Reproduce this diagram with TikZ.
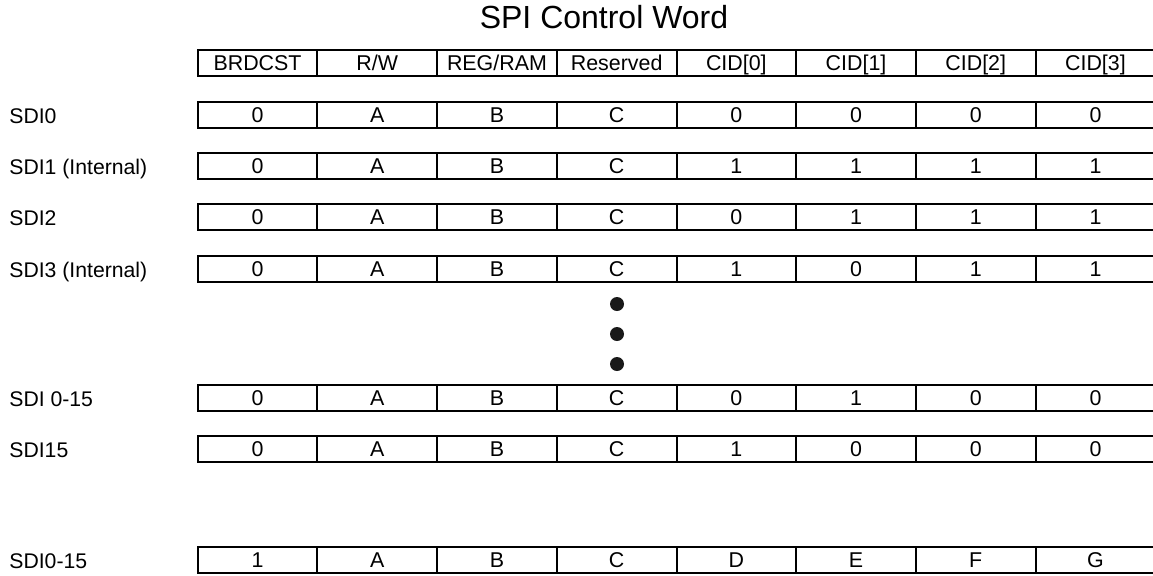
\documentclass[tikz,border=0pt]{standalone}
\usepackage{fontspec}
\setmainfont{Liberation Sans}
\begin{document}
\begin{tikzpicture}[x=0.5pt, y=-0.5pt,
    cell/.style={draw, line width=1pt, rectangle, minimum width=59.85pt, minimum height=13pt,
      inner sep=0pt, text height=7.5pt, text depth=0pt, font=\fontsize{10.7}{12}\selectfont},
    rowname/.style={anchor=base west, inner sep=0pt, font=\fontsize{10.6}{12}\selectfont},
    dot/.style={circle, fill=black!90, inner sep=0pt, minimum size=7pt}]
    \useasboundingbox (0, 0) rectangle (1153, 575);
    \node [anchor=base, inner sep=0pt, font=\fontsize{16}{18}\selectfont] (t) at (604, 28.3) {SPI Control Word};
    % header
    \node [cell] (h1) at (257.55, 63) {BRDCST};
    \node [cell] (h2) at (377.25, 63) {R/W};
    \node [cell] (h3) at (496.95, 63) {REG/RAM};
    \node [cell] (h4) at (616.65, 63) {Reserved};
    \node [cell] (h5) at (736.35, 63) {CID[0]};
    \node [cell] (h6) at (856.05, 63) {CID[1]};
    \node [cell] (h7) at (975.75, 63) {CID[2]};
    \node [cell] (h8) at (1095.45, 63) {CID[3]};
    % SDI0
    \node [rowname] (la) at (9, 123.3) {SDI0};
    \node [cell] (a1) at (257.55, 115) {0};
    \node [cell] (a2) at (377.25, 115) {A};
    \node [cell] (a3) at (496.95, 115) {B};
    \node [cell] (a4) at (616.65, 115) {C};
    \node [cell] (a5) at (736.35, 115) {0};
    \node [cell] (a6) at (856.05, 115) {0};
    \node [cell] (a7) at (975.75, 115) {0};
    \node [cell] (a8) at (1095.45, 115) {0};
    % SDI1
    \node [rowname] (lb) at (9, 174.3) {SDI1 (Internal)};
    \node [cell] (b1) at (257.55, 166) {0};
    \node [cell] (b2) at (377.25, 166) {A};
    \node [cell] (b3) at (496.95, 166) {B};
    \node [cell] (b4) at (616.65, 166) {C};
    \node [cell] (b5) at (736.35, 166) {1};
    \node [cell] (b6) at (856.05, 166) {1};
    \node [cell] (b7) at (975.75, 166) {1};
    \node [cell] (b8) at (1095.45, 166) {1};
    % SDI2
    \node [rowname] (lc) at (9, 225.3) {SDI2};
    \node [cell] (c1) at (257.55, 217) {0};
    \node [cell] (c2) at (377.25, 217) {A};
    \node [cell] (c3) at (496.95, 217) {B};
    \node [cell] (c4) at (616.65, 217) {C};
    \node [cell] (c5) at (736.35, 217) {0};
    \node [cell] (c6) at (856.05, 217) {1};
    \node [cell] (c7) at (975.75, 217) {1};
    \node [cell] (c8) at (1095.45, 217) {1};
    % SDI3
    \node [rowname] (ld) at (9, 277.3) {SDI3 (Internal)};
    \node [cell] (d1) at (257.55, 269) {0};
    \node [cell] (d2) at (377.25, 269) {A};
    \node [cell] (d3) at (496.95, 269) {B};
    \node [cell] (d4) at (616.65, 269) {C};
    \node [cell] (d5) at (736.35, 269) {1};
    \node [cell] (d6) at (856.05, 269) {0};
    \node [cell] (d7) at (975.75, 269) {1};
    \node [cell] (d8) at (1095.45, 269) {1};
    % dots
    \node [dot] (p1) at (617, 304) {};
    \node [dot] (p2) at (617, 334) {};
    \node [dot] (p3) at (617, 364) {};
    % SDI 0-15
    \node [rowname] (le) at (9, 406.3) {SDI 0-15};
    \node [cell] (e1) at (257.55, 398) {0};
    \node [cell] (e2) at (377.25, 398) {A};
    \node [cell] (e3) at (496.95, 398) {B};
    \node [cell] (e4) at (616.65, 398) {C};
    \node [cell] (e5) at (736.35, 398) {0};
    \node [cell] (e6) at (856.05, 398) {1};
    \node [cell] (e7) at (975.75, 398) {0};
    \node [cell] (e8) at (1095.45, 398) {0};
    % SDI15
    \node [rowname] (lf) at (9, 457.3) {SDI15};
    \node [cell] (f1) at (257.55, 449) {0};
    \node [cell] (f2) at (377.25, 449) {A};
    \node [cell] (f3) at (496.95, 449) {B};
    \node [cell] (f4) at (616.65, 449) {C};
    \node [cell] (f5) at (736.35, 449) {1};
    \node [cell] (f6) at (856.05, 449) {0};
    \node [cell] (f7) at (975.75, 449) {0};
    \node [cell] (f8) at (1095.45, 449) {0};
    % SDI0-15
    \node [rowname] (lg) at (9, 568.3) {SDI0-15};
    \node [cell] (g1) at (257.55, 560) {1};
    \node [cell] (g2) at (377.25, 560) {A};
    \node [cell] (g3) at (496.95, 560) {B};
    \node [cell] (g4) at (616.65, 560) {C};
    \node [cell] (g5) at (736.35, 560) {D};
    \node [cell] (g6) at (856.05, 560) {E};
    \node [cell] (g7) at (975.75, 560) {F};
    \node [cell] (g8) at (1095.45, 560) {G};
    \end{tikzpicture}
\end{document}
